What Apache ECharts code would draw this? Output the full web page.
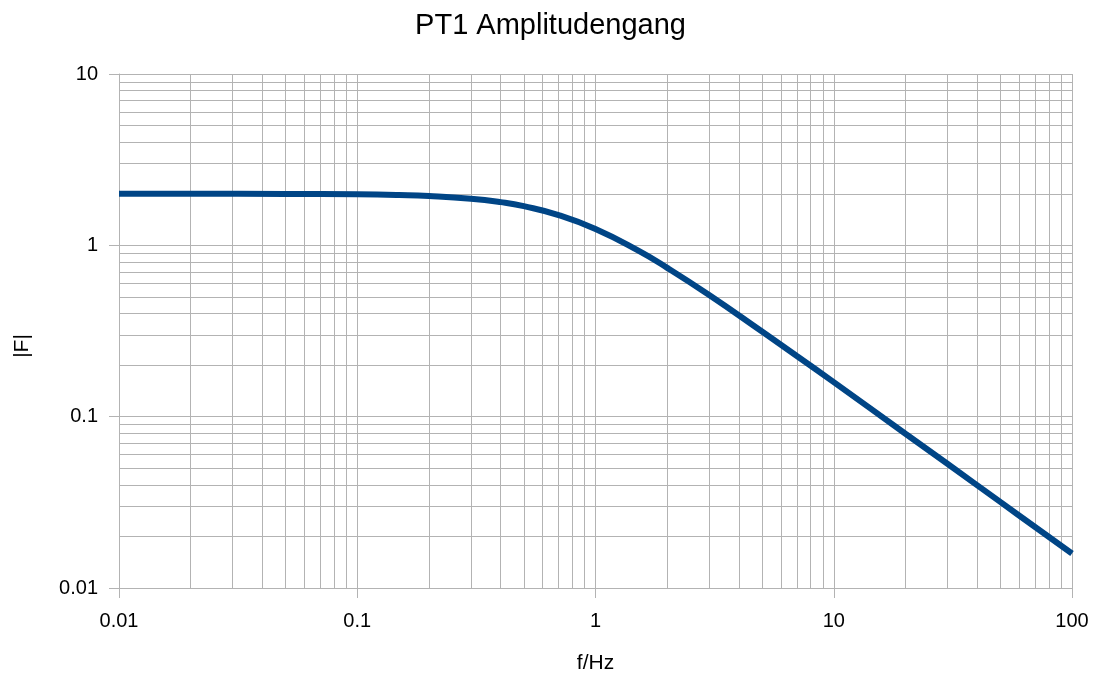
<!DOCTYPE html>
<html lang="de">
<head>
    <meta charset="UTF-8">
    <title>PT1 Amplitudengang</title>
</head>
<body style="margin:0;">
<div id="main" style="width: 1101px;height:675px;"></div>
<script src="https://cdn.jsdelivr.net/npm/echarts@6/dist/echarts.min.js"></script>
<script type="text/javascript">
    // Werte
    var freq = [0.01, 0.02, 0.05, 0.1, 0.15, 0.2, 0.3, 0.4, 0.5, 0.7, 1, 1.5, 2, 3, 5, 7, 10, 20, 30, 50, 70, 100];
    var amp = [2.0, 2.0, 1.996, 1.984, 1.965, 1.94, 1.871, 1.787, 1.693, 1.502, 1.245, 0.937, 0.739, 0.513, 0.314, 0.226, 0.159, 0.0795, 0.0531, 0.0318, 0.0227, 0.0159];
    var minorX = [0.02, 0.03, 0.04, 0.05, 0.06, 0.07, 0.08, 0.09,
                  0.2, 0.3, 0.4, 0.5, 0.6, 0.7, 0.8, 0.9,
                  2, 3, 4, 5, 6, 7, 8, 9,
                  20, 30, 40, 50, 60, 70, 80, 90];
    var minorY = [0.02, 0.03, 0.04, 0.05, 0.06, 0.07, 0.08, 0.09,
                  0.2, 0.3, 0.4, 0.5, 0.6, 0.7, 0.8, 0.9,
                  2, 3, 4, 5, 6, 7, 8, 9];

    var gridColor = "#b3b3b3";
    var font = "'Liberation Sans', Arial, sans-serif";

    var myChart = echarts.init(document.getElementById("main"));

    var option = {
        backgroundColor: "#ffffff",
        animation: false,
        title: {
            text: "PT1 Amplitudengang",
            left: "center",
            top: 6,
            textStyle: {color: "#000", fontSize: 29, fontWeight: "normal", fontFamily: font}
        },
        grid: {left: 119, right: 29, top: 74, bottom: 87, outerBoundsMode: "none", containLabel: false},
        xAxis: {
            type: "log",
            logBase: 10,
            min: 0.01,
            max: 100,
            name: "f/Hz",
            nameLocation: "middle",
            nameGap: 65,
            nameTextStyle: {color: "#000", fontSize: 21, fontFamily: font},
            axisLine: {lineStyle: {color: gridColor}},
            axisTick: {show: true, length: 10, lineStyle: {color: gridColor}},
            axisLabel: {color: "#000", fontSize: 20, fontFamily: font, margin: 23},
            splitLine: {show: true, lineStyle: {color: gridColor, width: 1}}
        },
        yAxis: {
            type: "log",
            logBase: 10,
            min: 0.01,
            max: 10,
            name: "|F|",
            nameLocation: "middle",
            nameGap: 86,
            nameTextStyle: {color: "#000", fontSize: 21, fontFamily: font, padding: [0, 30, 0, 0]},
            axisLine: {show: true, lineStyle: {color: gridColor}},
            axisTick: {show: true, length: 10, lineStyle: {color: gridColor}},
            axisLabel: {color: "#000", fontSize: 20, fontFamily: font, margin: 21},
            splitLine: {show: true, lineStyle: {color: gridColor, width: 1}}
        },
        series: [
            {
                name: "grid",
                type: "line",
                data: [],
                z: 1,
                silent: true,
                markLine: {
                    silent: true,
                    symbol: "none",
                    label: {show: false},
                    lineStyle: {color: gridColor, width: 1, type: "solid"},
                    data: minorX.map(function (v) { return {xAxis: v}; })
                        .concat(minorY.map(function (v) { return {yAxis: v}; }))
                }
            },
            {
                name: "|F|",
                type: "line",
                z: 5,
                smooth: true,
                showSymbol: false,
                lineStyle: {color: "#004586", width: 6},
                data: freq.map(function (f, i) { return [f, amp[i]]; })
            }
        ]
    };

    myChart.setOption(option);
</script>
</body>
</html>
